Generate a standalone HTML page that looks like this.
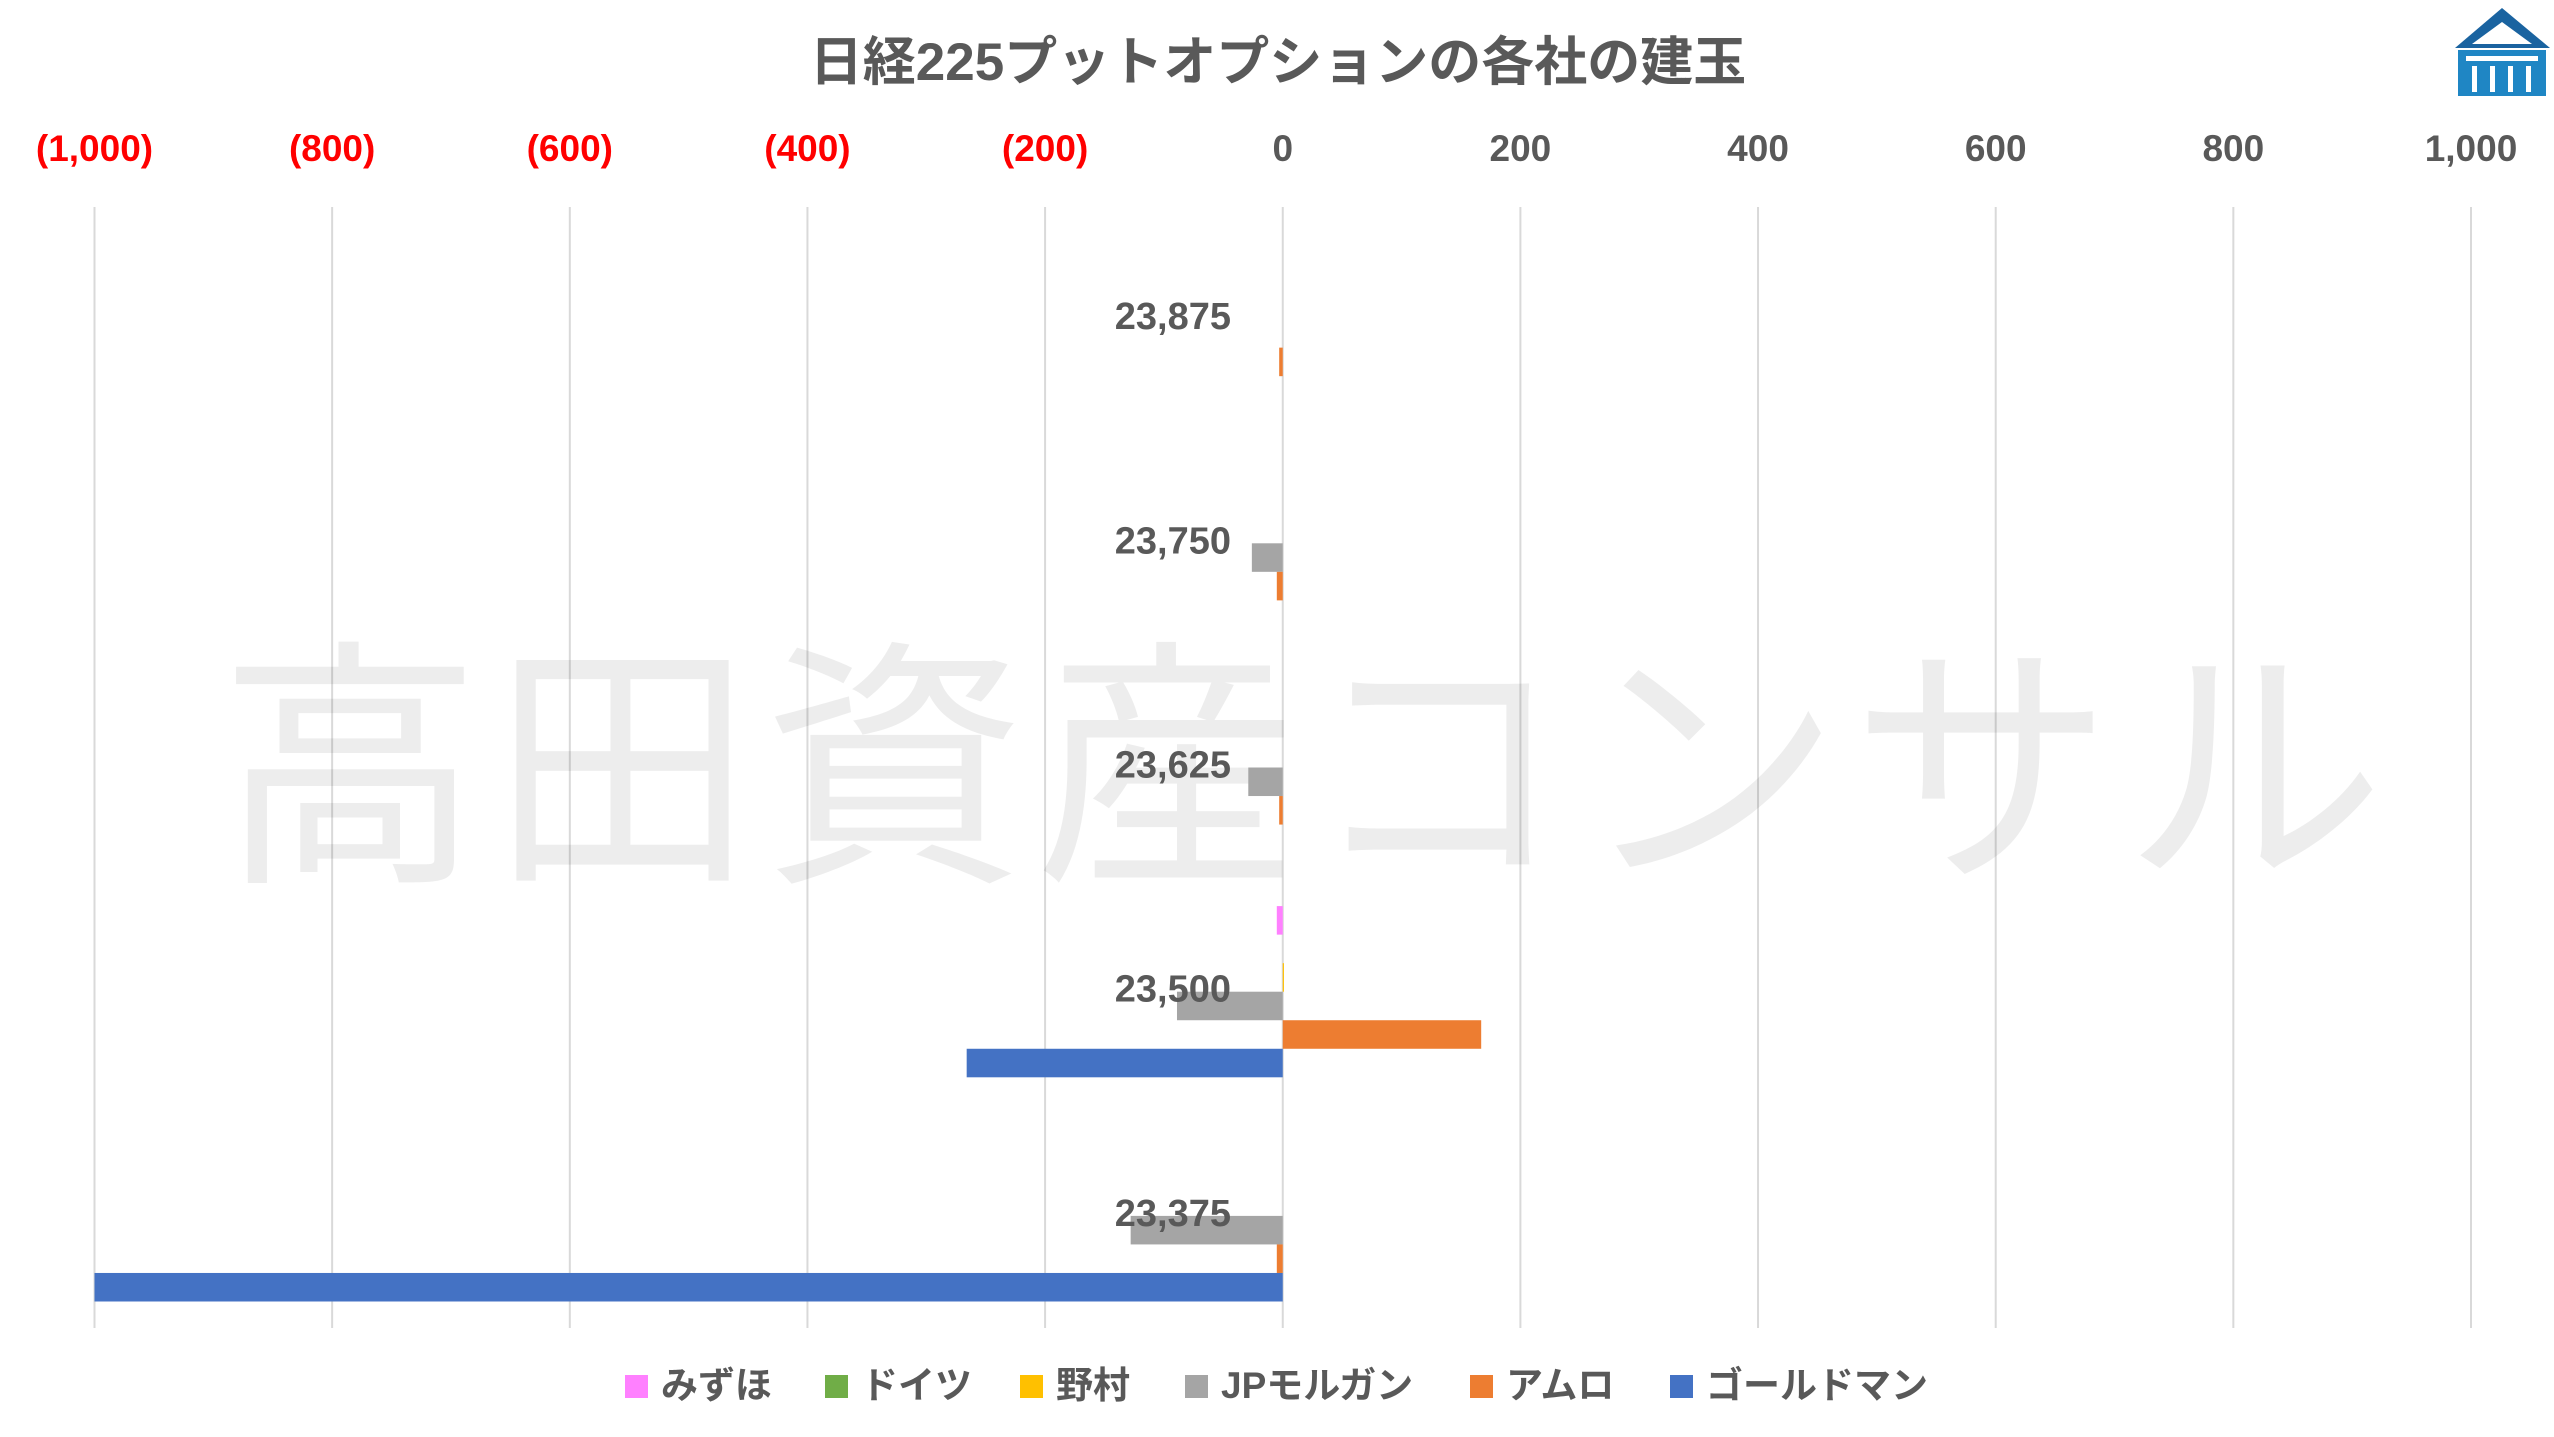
<!DOCTYPE html>
<html><head><meta charset="utf-8"><style>
body{margin:0;background:#fff;}
svg{display:block;font-family:"Liberation Sans","Noto Sans CJK JP",sans-serif;}
</style></head><body>
<svg id="c" width="2554" height="1437" viewBox="0 0 2554 1437">
<text x="1278" y="80" text-anchor="middle" font-size="53" font-weight="bold" fill="#595959">日経225プットオプションの各社の建玉</text>
<g>
<polygon points="2502,8 2550,48 2455,48" fill="#1a63a0"/>
<polygon points="2502,22 2532,44 2472,44" fill="#fff"/>
<rect x="2458" y="50" width="88" height="46" fill="#1f86c4"/>
<rect x="2466" y="56" width="72" height="5" fill="#fff"/>
<rect x="2472" y="66" width="5" height="26" fill="#fff"/>
<rect x="2490" y="66" width="5" height="26" fill="#fff"/>
<rect x="2508" y="66" width="5" height="26" fill="#fff"/>
<rect x="2526" y="66" width="5" height="26" fill="#fff"/>
</g>
<g id="grid"></g><g id="wm"></g><g id="bars"></g><g id="labels"></g><g id="legend"></g>
</svg>
<script>
const categories=["23,875","23,750","23,625","23,500","23,375"];
const seriesNames=["みずほ","ドイツ","野村","JPモルガン","アムロ","ゴールドマン"];
const mizuho=[0,0,0,-5,0];
const deutsche=[0,0,0,0,0];
const nomura=[0,0,0,1,0];
const jpm=[0,-26,-29,-89,-128];
const amuro=[-3,-5,-3,167,-5];
const goldman=[0,0,0,-266,-1000];
const ticks=[-1000,-800,-600,-400,-200,0,200,400,600,800,1000];
const tickLabels=["(1,000)","(800)","(600)","(400)","(200)","0","200","400","600","800","1,000"];
const series=[mizuho,deutsche,nomura,jpm,amuro,goldman];
const colors=["#ff80ff","#70ad47","#ffc000","#a5a5a5","#ed7d31","#4472c4"];
const NS="http://www.w3.org/2000/svg";
const X0=94.5,X1=2471,Y0=207,Y1=1328,VMIN=-1000,VMAX=1000;
const x=v=>X0+(v-VMIN)/(VMAX-VMIN)*(X1-X0);
const band=(Y1-Y0)/categories.length;
const y=i=>Y0+band*i;
function mk(tag,attrs,parent){const e=document.createElementNS(NS,tag);for(const k in attrs)e.setAttribute(k,attrs[k]);parent.appendChild(e);return e;}
const grid=document.getElementById('grid');
ticks.forEach((t,i)=>{
 const l=mk('line',{x1:x(t),x2:x(t),y1:Y0,y2:Y1,stroke:'#d9d9d9','stroke-width':2},grid);
 
 
 const tx=mk('text',{x:x(t),y:161,'text-anchor':'middle','font-size':37,'font-weight':'bold',fill:t<0?'#ff0000':'#595959'},grid);
 tx.textContent=tickLabels[i];
 
 
});
const wm=mk('text',{x:1307,y:862,'text-anchor':'middle','font-size':262,fill:'#000','fill-opacity':0.07,'letter-spacing':10},document.getElementById('wm'));
wm.textContent="高田資産コンサル";


const bars=document.getElementById('bars');
const gap=53,bh=(band-gap)/series.length;
categories.forEach((c,ci)=>{
 series.forEach((s,si)=>{
  const v=s[ci];if(v===0)return;
  const a=x(Math.min(0,v)),b=x(Math.max(0,v));
  const r=mk('rect',{x:a,y:y(ci)+gap/2+si*bh,width:Math.max(b-a,1),height:bh,fill:colors[si]},bars);
  
  
 });
 const t=mk('text',{x:1231,y:y(ci)+band/2+10,'text-anchor':'end','font-size':38,'font-weight':'bold',fill:'#595959'},document.getElementById('labels'));
 t.textContent=c;
 
 
});
const lg=document.getElementById('legend');
const lx=[625,825,1020,1185,1470,1670];
seriesNames.forEach((n,i)=>{
 const g=mk('g',{},lg);
 
 
 mk('rect',{x:lx[i],y:1375,width:23,height:23,fill:colors[i]},g);
 const t=mk('text',{x:lx[i]+36,y:1398,'font-size':37,'font-weight':'bold',fill:'#595959'},g);
 t.textContent=n;
});
</script>
</body></html>
